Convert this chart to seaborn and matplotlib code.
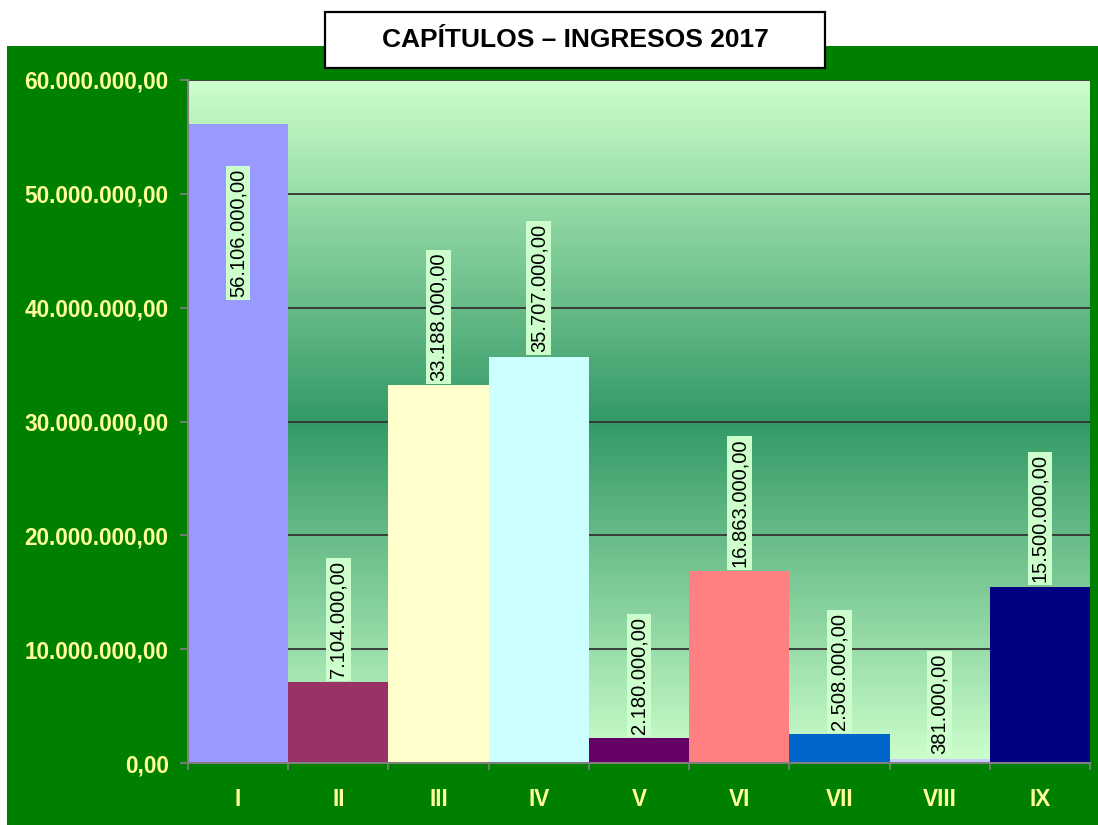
import numpy as np
import pandas as pd
import matplotlib
matplotlib.use("Agg")
import matplotlib.pyplot as plt
from matplotlib.patches import Rectangle
from matplotlib.colors import LinearSegmentedColormap
import seaborn as sns

# ---- data ----
categories = ["I", "II", "III", "IV", "V", "VI", "VII", "VIII", "IX"]
values = [56106000, 7104000, 33188000, 35707000, 2180000, 16863000, 2508000, 381000, 15500000]
bar_colors = ["#9999FF", "#993366", "#FFFFCC", "#CCFFFF", "#660066",
              "#FF8080", "#0066CC", "#CCCCFF", "#000080"]
y_ticks = [0, 10000000, 20000000, 30000000, 40000000, 50000000, 60000000]
title = "CAPÍTULOS – INGRESOS 2017"


def fmt_es(v):
    s = f"{v:,.2f}"
    return s.replace(",", "X").replace(".", ",").replace("X", ".")


sns.set_theme(style="white")
plt.rcParams["font.family"] = ["Liberation Sans", "DejaVu Sans"]

W, H = 1098, 825
fig = plt.figure(figsize=(W / 100, H / 100), dpi=100)
fig.patch.set_facecolor("white")

# green outer panel
fig.patches.append(Rectangle((7 / W, 0), 1 - 7 / W, (H - 46) / H,
                             transform=fig.transFigure, facecolor="#008000",
                             edgecolor="none", zorder=0))

ax = fig.add_axes([188 / W, (H - 763) / H, (1090 - 188) / W, (763 - 80) / H])
ax.set_zorder(2)

df = pd.DataFrame({"cap": categories, "val": values})
sns.barplot(data=df, x="cap", y="val", hue="cap", palette=bar_colors,
            width=1.0, legend=False, ax=ax, saturation=1, zorder=3,
            edgecolor="none", linewidth=0)

ymax = y_ticks[-1]
# gradient background: light - dark - light
cmap = LinearSegmentedColormap.from_list(
    "g", ["#CCFFCC", "#339966", "#CCFFCC"])
grad = np.linspace(0, 1, 256).reshape(-1, 1)
ax.imshow(grad, cmap=cmap, aspect="auto", extent=(-0.5, len(categories) - 0.5, 0, ymax),
          origin="upper", zorder=0, interpolation="bilinear")

ax.set_xlim(-0.5, len(categories) - 0.5)
ax.set_ylim(0, ymax)

for t in y_ticks[1:]:
    ax.axhline(t, color="#333333", lw=1.3, zorder=1)

ax.set_yticks(y_ticks)
ax.set_yticklabels([fmt_es(t) for t in y_ticks])
ax.set_xlabel("")
ax.set_ylabel("")

ax.tick_params(axis="y", which="major", length=6, width=1.2, color="#808080",
               direction="out", pad=8, left=True)
ax.tick_params(axis="x", which="major", length=0, pad=18, bottom=True)
ax.set_xticks(np.arange(-0.5, len(categories)), minor=True)
ax.tick_params(axis="x", which="minor", length=5, width=1.2, color="#808080",
               direction="out", bottom=True)

for lab in ax.get_yticklabels() + ax.get_xticklabels():
    lab.set_color("#FFFF99")
    lab.set_fontweight("bold")
    lab.set_fontsize(16.3)

for s in ["top", "right"]:
    ax.spines[s].set_visible(False)
for s in ["left", "bottom"]:
    ax.spines[s].set_color("#808080")
    ax.spines[s].set_linewidth(1.5)
    ax.spines[s].set_zorder(5)

# data labels
for i, v in enumerate(values):
    text = fmt_es(v)
    if v > 0.85 * ymax:
        ax.annotate(text, (i, v), xytext=(0, -32), textcoords="offset points",
                    rotation=90, ha="center", va="top", fontsize=14.5,
                    color="black", zorder=6,
                    bbox=dict(boxstyle="square,pad=0.14", fc="#CCFFCC", ec="none"))
    else:
        ax.annotate(text, (i, v), xytext=(0, 3), textcoords="offset points",
                    rotation=90, ha="center", va="bottom", fontsize=14.5,
                    color="black", zorder=6,
                    bbox=dict(boxstyle="square,pad=0.14", fc="#CCFFCC", ec="none"))

# title box
fig.patches.append(Rectangle((325 / W, (H - 68) / H), 500 / W, 56 / H,
                             transform=fig.transFigure, facecolor="white",
                             edgecolor="black", linewidth=1.6, zorder=5))
fig.text(575 / W, (H - 40) / H, title, ha="center", va="center",
         fontsize=19, fontweight="bold", color="black", zorder=6)

fig.savefig("out.png", dpi=100, facecolor=fig.get_facecolor())
